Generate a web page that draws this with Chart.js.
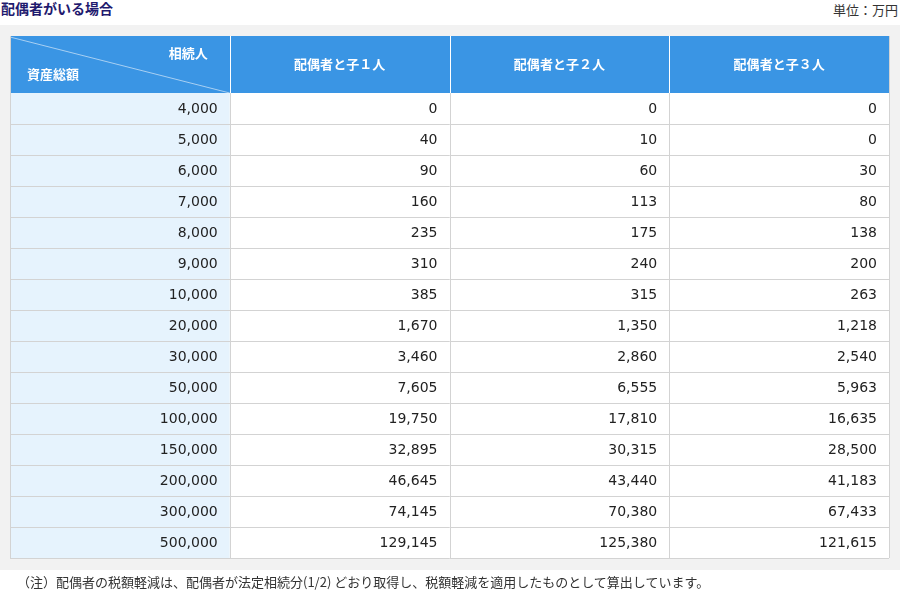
<!DOCTYPE html>
<html><head><meta charset="utf-8">
<script src="https://cdn.jsdelivr.net/npm/chart.js@4"></script>
<style>
body{margin:0;background:#fff;font-family:"Noto Sans CJK JP",sans-serif;}
#wrap{position:relative;width:900px;height:600px;}
#bg{position:absolute;left:0;top:25px;width:900px;height:545px;background:#f2f2f2;}
#title{position:absolute;left:1px;top:-2px;font-size:14px;font-weight:bold;color:#1f1a6e;}
#unit{position:absolute;right:2px;top:0px;font-size:13px;color:#333;}
#note{position:absolute;left:17px;top:572px;font-size:13px;color:#333;}
canvas{position:absolute;left:0;top:0;}
</style></head>
<body><div id="wrap">
<div id="bg"></div>
<div id="title">配偶者がいる場合</div>
<div id="unit">単位：万円</div>
<canvas id="chart" width="900" height="600"></canvas>
<div id="note">（注）配偶者の税額軽減は、配偶者が法定相続分(1/2) どおり取得し、税額軽減を適用したものとして算出しています。</div>
</div>
<script>
const columns = ["配偶者と子１人", "配偶者と子２人", "配偶者と子３人"];
const assets = [4000, 5000, 6000, 7000, 8000, 9000, 10000, 20000, 30000, 50000, 100000, 150000, 200000, 300000, 500000];
const child1 = [0, 40, 90, 160, 235, 310, 385, 1670, 3460, 7605, 19750, 32895, 46645, 74145, 129145];
const child2 = [0, 10, 60, 113, 175, 240, 315, 1350, 2860, 6555, 17810, 30315, 43440, 70380, 125380];
const child3 = [0, 0, 30, 80, 138, 200, 263, 1218, 2540, 5963, 16635, 28500, 41183, 67433, 121615];
const series = [child1, child2, child3];

const fmt = v => v.toLocaleString("en-US");
const numFont = '14px "DejaVu Sans", Verdana, sans-serif';

const tablePlugin = {
  id: "table",
  beforeDatasetsDraw(chart) {
    const ctx = chart.ctx, x = chart.scales.x, y = chart.scales.y;
    const headTop = 36;
    const colX = i => x.getPixelForValue(i);
    const rowY = j => y.getPixelForValue(j);
    const left = colX(0), right = colX(4), top = rowY(0), bottom = rowY(assets.length);
    ctx.save();
    // header
    ctx.fillStyle = "#3a95e4";
    ctx.fillRect(left, headTop, right - left, top - headTop);
    ctx.strokeStyle = "#a8d0f3";
    ctx.lineWidth = 1;
    ctx.beginPath();
    ctx.moveTo(left, headTop + 1);
    ctx.lineTo(colX(1), top);
    ctx.stroke();
    ctx.fillStyle = "#fff";
    ctx.font = 'bold 13px "Noto Sans CJK JP", sans-serif';
    ctx.textBaseline = "middle";
    ctx.textAlign = "right";
    ctx.fillText("相続人", colX(1) - 22, headTop + 17);
    ctx.textAlign = "left";
    ctx.fillText("資産総額", left + 17, headTop + 38);
    ctx.textAlign = "center";
    columns.forEach((c, i) => ctx.fillText(c, (colX(i + 1) + colX(i + 2)) / 2, (headTop + top) / 2));
    // body
    ctx.fillStyle = "#e6f3fd";
    ctx.fillRect(left, top, colX(1) - left, bottom - top);
    ctx.fillStyle = "#fff";
    ctx.fillRect(colX(1), top, right - colX(1), bottom - top);
    ctx.font = numFont;
    ctx.textAlign = "right";
    ctx.fillStyle = "#222";
    assets.forEach((a, j) => {
      const cy = (rowY(j) + rowY(j + 1)) / 2 + 1;
      ctx.fillText(fmt(a), colX(1) - 12, cy);
      series.forEach((s, i) => ctx.fillText(fmt(s[j]), colX(i + 2) - 12, cy));
    });
    // grid
    ctx.strokeStyle = "#d3d3d3";
    ctx.beginPath();
    for (let j = 1; j <= assets.length; j++) {
      const py = Math.round(rowY(j)) + 0.5;
      ctx.moveTo(left, py); ctx.lineTo(right, py);
    }
    for (let i = 0; i <= 4; i++) {
      const px = Math.round(colX(i)) + 0.5;
      ctx.moveTo(px, i === 0 || i === 4 ? headTop : top); ctx.lineTo(px, bottom);
    }
    ctx.stroke();
    ctx.strokeStyle = "#ffffff";
    ctx.beginPath();
    for (let i = 1; i < 4; i++) {
      const px = Math.round(colX(i)) + 0.5;
      ctx.moveTo(px, headTop); ctx.lineTo(px, top);
    }
    ctx.stroke();
    ctx.restore();
  }
};

new Chart(document.getElementById("chart"), {
  type: "scatter",
  data: { datasets: [{ data: [] }] },
  options: {
    responsive: false,
    animation: false,
    devicePixelRatio: 1,
    layout: { padding: { left: 10, right: 11, top: 93, bottom: 42 } },
    plugins: { legend: { display: false }, tooltip: { enabled: false } },
    scales: {
      x: { type: "linear", min: 0, max: 4, display: false },
      y: { type: "linear", min: 0, max: assets.length, reverse: true, display: false }
    }
  },
  plugins: [tablePlugin]
});
</script>
</body></html>
